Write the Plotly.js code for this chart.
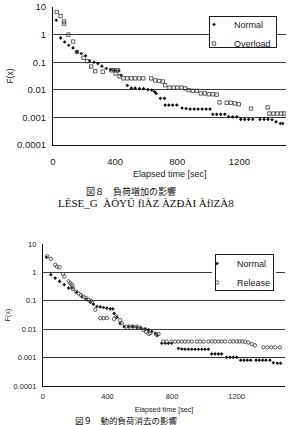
<!DOCTYPE html>
<html>
<head>
<meta charset="utf-8">
<script src="https://cdn.plot.ly/plotly-3.0.1.min.js"></script>
<style>
  html, body { margin: 0; padding: 0; background: #fff; }
  #chart { width: 288px; height: 425px; }
</style>
</head>
<body>
<div id="chart"></div>
<script>
// Upper chart: normal operation vs. overload
var normalTimeA = [21,49,75,101,129,154,182,210,236,264,289,315,343,371,396,424,439,478,504,529,557,583,611,636,654,664,692,718,722,746,771,797,831,857,883,909,934,960,986,1011,1029,1054,1080,1106,1131,1157,1183,1209,1234,1260,1286,1333,1359,1384,1410,1436,1464,1479];
var normalFA = [3.3,0.76,0.54,0.41,0.33,0.236,0.206,0.17,0.112,0.1,0.089,0.072,0.059,0.054,0.051,0.049,0.034,0.0144,0.0115,0.0115,0.011,0.011,0.0102,0.0097,0.0085,0.0074,0.0049,0.0049,0.0028,0.0028,0.0028,0.0028,0.0022,0.0021,0.002,0.002,0.002,0.002,0.002,0.002,0.00129,0.00129,0.00129,0.00129,0.00105,0.00105,0.00105,0.00085,0.00085,0.00085,0.00085,0.00085,0.00085,0.00085,0.00082,0.00069,0.0006,0.0006];

var overloadTime = [24,49,71,71,99,129,154,197,221,246,272,321,375,396,403,418,429,454,478,504,529,555,581,632,658,684,707,722,750,776,801,827,851,874,900,926,951,977,1003,1029,1054,1072,1119,1144,1170,1196,1275,1382,1393,1419,1444,1470,1489];
var overloadF = [6.6,4.7,3.0,2.5,1.0,0.56,0.236,0.144,0.109,0.07,0.047,0.045,0.051,0.051,0.039,0.051,0.031,0.026,0.026,0.026,0.026,0.026,0.026,0.026,0.022,0.021,0.02,0.0147,0.012,0.012,0.012,0.012,0.0112,0.0097,0.0092,0.0092,0.0074,0.0074,0.0069,0.0069,0.0067,0.0035,0.0034,0.0034,0.0032,0.003,0.0021,0.0023,0.00138,0.00138,0.00138,0.00138,0.00138];

// Lower chart: normal operation vs. load release
var normalTimeB = [22,49,76,103,132,159,179,210,241,268,293,313,334,355,375,396,417,433,441,458,478,503,530,557,581,606,633,654,674,695,709,736,757,777,798,839,860,880,901,922,942,963,984,1004,1025,1045,1066,1087,1107,1138,1159,1179,1200,1225,1245,1266,1287,1320,1340,1361,1381,1406,1427,1452,1472];
var normalFB = [3.4,0.83,0.63,0.48,0.37,0.28,0.28,0.2,0.14,0.11,0.09,0.076,0.063,0.061,0.058,0.055,0.052,0.052,0.036,0.026,0.016,0.0123,0.0123,0.0123,0.0114,0.011,0.0103,0.0095,0.0083,0.0072,0.006,0.0032,0.0032,0.0032,0.0032,0.0021,0.002,0.00197,0.00197,0.00197,0.00197,0.00197,0.00197,0.00197,0.00197,0.00135,0.00135,0.00135,0.00135,0.00102,0.00102,0.00102,0.00102,0.00081,0.00081,0.00081,0.00081,0.00081,0.00081,0.00081,0.00081,0.00081,0.00066,0.00063,0.00063];

var releaseTime = [27,49,76,87,103,124,132,159,169,179,184,186,206,221,235,252,268,282,297,303,324,355,375,396,441,455,478,489,515,536,557,581,602,622,639,654,664,701,716,746,767,798,819,839,860,880,901,922,953,973,994,1025,1045,1066,1087,1107,1128,1159,1179,1200,1217,1235,1252,1272,1293,1313,1365,1390,1414,1439,1468];
var releaseF = [3.7,3.0,1.86,1.6,1.5,0.87,0.71,0.48,0.42,0.37,0.31,0.26,0.21,0.18,0.16,0.14,0.123,0.109,0.1,0.09,0.048,0.0245,0.0245,0.0245,0.023,0.028,0.021,0.016,0.0124,0.0124,0.0124,0.0124,0.0114,0.0094,0.0081,0.0069,0.0072,0.0065,0.0068,0.00367,0.00367,0.00367,0.00367,0.00367,0.00367,0.00367,0.00367,0.00367,0.00367,0.00367,0.00367,0.0037,0.0037,0.0037,0.0037,0.0037,0.0037,0.0037,0.0037,0.0037,0.0037,0.0037,0.0036,0.0034,0.003,0.0027,0.0023,0.0023,0.0023,0.0023,0.0023];

var timeTicks = [0, 400, 800, 1200];
var fTicks = [0.0001, 0.001, 0.01, 0.1, 1, 10];
var fTickText = ['0.0001', '0.001', '0.01', '0.1', '1', '10'];

var SANS = 'Liberation Sans, Arial, sans-serif';
var CJK = 'Noto Sans CJK JP, sans-serif';
var INK = '#1a1a1a';

var dotMarker = {symbol: 'diamond', size: 2.8, color: '#111', line: {width: 0}};
function openMarker(sym) {
  return {symbol: sym, size: 3.4, color: '#4a4a4a', line: {width: 0.9, color: '#4a4a4a'}};
}

var traces = [
  {x: normalTimeA, y: normalFA, name: 'Normal', type: 'scatter', mode: 'markers',
   xaxis: 'x', yaxis: 'y', legend: 'legend', marker: dotMarker},
  {x: overloadTime, y: overloadF, name: 'Overload', type: 'scatter', mode: 'markers',
   xaxis: 'x', yaxis: 'y', legend: 'legend', marker: openMarker('square-open')},
  {x: normalTimeB, y: normalFB, name: 'Normal', type: 'scatter', mode: 'markers',
   xaxis: 'x2', yaxis: 'y2', legend: 'legend2', marker: dotMarker},
  {x: releaseTime, y: releaseF, name: 'Release', type: 'scatter', mode: 'markers',
   xaxis: 'x2', yaxis: 'y2', legend: 'legend2', marker: openMarker('circle-open')}
];

function timeAxis(domain, anchor, fs, labelGap, title) {
  var ax = {
    domain: domain, anchor: anchor, range: [0, 1500], tickvals: timeTicks,
    showgrid: false, zeroline: false, showline: true, linecolor: '#111', linewidth: 1,
    ticks: '', ticklabelstandoff: labelGap, tickfont: {family: SANS, size: fs, color: INK}
  };
  if (title) ax.title = title;
  return ax;
}
function fAxis(domain, anchor, fs, titleSize, standoff) {
  return {
    domain: domain, anchor: anchor, type: 'log', range: [-4, 1],
    tickvals: fTicks, ticktext: fTickText,
    showgrid: true, gridcolor: '#3c3c3c', gridwidth: 1, zeroline: false,
    showline: true, linecolor: '#111', linewidth: 1,
    ticks: '', ticklabelstandoff: 4, tickfont: {family: SANS, size: fs, color: INK},
    title: {text: 'F(x)', font: {family: SANS, size: titleSize, color: INK}, standoff: standoff}
  };
}

function legendStyle(left, top) {
  return {
    x: left / 288, y: 1 - top / 425, xanchor: 'left', yanchor: 'top',
    bgcolor: '#fff', borderwidth: 0,
    font: {family: SANS, size: 9, color: INK}, indentation: -15, itemwidth: 30
  };
}

// rectangular frame around a legend (pixel box), drawn as an empty bordered note
function legendFrame(l, r, t, b) {
  return {xref: 'paper', yref: 'paper', x: l / 288, y: 1 - t / 425,
          xanchor: 'left', yanchor: 'top', text: ' ', showarrow: false,
          width: r - l - 2, height: b - t - 2, borderpad: 0,
          bordercolor: '#1a1a1a', borderwidth: 1, bgcolor: 'rgba(255,255,255,0)'};
}

var layout = {
  width: 288, height: 425,
  margin: {l: 0, r: 0, t: 0, b: 0},
  paper_bgcolor: '#fff', plot_bgcolor: '#fff',
  showlegend: true,
  xaxis: timeAxis([0.184, 0.993], 'y', 9.5, 8, null),
  yaxis: fAxis([0.6588, 0.9835], 'x', 9.5, 8.5, 2),
  xaxis2: timeAxis([0.149, 0.990], 'y2', 7.5, 3,
    {text: 'Elapsed time [sec]', font: {family: SANS, size: 7.2, color: INK}, standoff: 6}),
  yaxis2: fAxis([0.0918, 0.4259], 'x2', 7.5, 7, 2),
  legend: legendStyle(209, 10),
  legend2: legendStyle(212, 249),
  annotations: [
    legendFrame(209, 277, 16, 48),
    legendFrame(215, 274, 254, 291),
    // title of the upper time axis
    {xref: 'paper', yref: 'paper', x: (53 + 286) / 2 / 288, y: 1 - 174 / 425, xanchor: 'center', yanchor: 'middle',
     text: 'Elapsed time [sec]', showarrow: false, font: {family: SANS, size: 9, color: INK}},
    {xref: 'paper', yref: 'paper', x: 0.455, y: 1 - 191 / 425, xanchor: 'center', yanchor: 'middle',
     text: '図８　負荷増加の影響', showarrow: false, font: {family: CJK, size: 9, color: '#111'}},
    {xref: 'paper', yref: 'paper', x: 0.507, y: 1 - 203 / 425, xanchor: 'center', yanchor: 'middle',
     text: 'LÉSE_G  ÀÖYÜ flÀZ ÀZÐÀI ÀflZÀ8', showarrow: false,
     font: {family: 'Liberation Serif, serif', size: 11, color: '#111'}},
    {xref: 'paper', yref: 'paper', x: 0.44, y: 1 - 420 / 425, xanchor: 'center', yanchor: 'middle',
     text: '図９　動的負荷消去の影響', showarrow: false, font: {family: CJK, size: 8.5, color: '#111'}}
  ]
};

Plotly.newPlot('chart', traces, layout, {displayModeBar: false, staticPlot: true});
</script>
</body>
</html>
